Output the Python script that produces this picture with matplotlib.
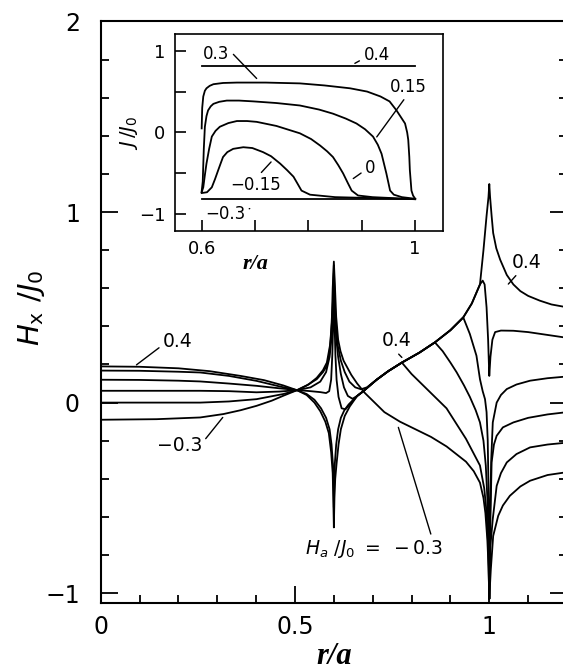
import matplotlib
matplotlib.use('Agg')
import matplotlib.pyplot as plt
from matplotlib.ticker import MultipleLocator, FixedLocator

plt.rcParams['font.family'] = 'DejaVu Sans'
plt.rcParams['mathtext.fontset'] = 'dejavusans'

# ---- main panel: H_x/J_0 against r/a, one curve per applied field H_a/J_0 ----
# rising branch inside the film that several curves share
env_x = [0.66, 0.676, 0.69, 0.71, 0.74, 0.775, 0.82, 0.86, 0.90, 0.933, 0.955, 0.976]
env_y = [0.035, 0.06, 0.085, 0.12, 0.165, 0.21, 0.262, 0.316, 0.38, 0.447, 0.52, 0.62]

# H_a/J_0 = 0.4
h04_x = ([0, 0.1, 0.2, 0.28, 0.36, 0.42, 0.47, 0.505, 0.53, 0.55, 0.565, 0.578, 0.587, 0.593, 0.597,
          0.5985, 0.6, 0.6015, 0.6035, 0.607, 0.612, 0.618, 0.628, 0.641] + env_x +
         [0.985, 0.993, 0.998, 1.0, 1.002, 1.006, 1.01, 1.018, 1.028, 1.045, 1.062, 1.08, 1.1, 1.13, 1.16, 1.2])
h04_y = ([0.19, 0.188, 0.18, 0.165, 0.14, 0.118, 0.09, 0.065, 0.04, 0.0, -0.045, -0.1, -0.16, -0.26, -0.37,
          -0.5, -0.655, -0.5, -0.4, -0.32, -0.22, -0.14, -0.07, -0.02] + env_y +
         [0.8, 0.98, 1.08, 1.147, 1.08, 0.98, 0.89, 0.81, 0.75, 0.67, 0.62, 0.585, 0.56, 0.535, 0.515, 0.5])

# H_a/J_0 = 0.3
h03_x = ([0, 0.1, 0.2, 0.256, 0.33, 0.401, 0.46, 0.505, 0.53, 0.55, 0.567, 0.58, 0.589, 0.594, 0.5975,
          0.599, 0.6, 0.601, 0.6025, 0.606, 0.611, 0.618, 0.627, 0.638, 0.65] + env_x +
         [0.983, 0.988, 0.993, 0.997, 1.0, 1.003, 1.008, 1.015, 1.03, 1.062, 1.1, 1.15, 1.2])
h03_y = ([0.168, 0.167, 0.162, 0.158, 0.14, 0.114, 0.085, 0.065, 0.045, 0.015, -0.03, -0.08, -0.14, -0.22, -0.32,
          -0.43, -0.55, -0.43, -0.32, -0.22, -0.14, -0.08, -0.04, -0.01, 0.015] + env_y +
         [0.64, 0.62, 0.5, 0.33, 0.14, 0.24, 0.33, 0.37, 0.378, 0.377, 0.37, 0.355, 0.34])

# H_a/J_0 = 0.15
h015_x = ([0, 0.1, 0.2, 0.256, 0.33, 0.401, 0.46, 0.505, 0.54, 0.565, 0.58, 0.588, 0.593, 0.596, 0.598,
           0.6, 0.602, 0.604, 0.607, 0.612, 0.62, 0.63, 0.645] + env_x[:10] +
          [0.95, 0.967, 0.976, 0.983, 0.989, 0.993, 0.996, 0.998, 1.0, 1.002, 1.005, 1.009, 1.019,
           1.03, 1.045, 1.07, 1.105, 1.15, 1.2])
h015_y = ([0.12, 0.119, 0.115, 0.111, 0.1, 0.088, 0.075, 0.066, 0.06, 0.055, 0.05, 0.06, 0.12, 0.25, 0.4,
           0.6, 0.4, 0.25, 0.12, 0.03, -0.03, -0.035, 0.0] + env_y[:10] +
          [0.36, 0.246, 0.123, 0.06, 0.018, -0.05, -0.2, -0.45, -1.03, -0.6, -0.3, -0.104, 0.0,
           0.04, 0.071, 0.095, 0.115, 0.128, 0.137])

# H_a/J_0 = 0
h0_x = ([0, 0.1, 0.2, 0.256, 0.33, 0.401, 0.46, 0.505, 0.54, 0.565, 0.58, 0.589, 0.594, 0.597, 0.6,
         0.603, 0.606, 0.611, 0.618, 0.626, 0.636, 0.648] + env_x[:8] +
        [0.88, 0.90, 0.916, 0.935, 0.95, 0.965, 0.976, 0.985, 0.991, 0.995, 0.998, 1.0, 1.002, 1.006,
         1.012, 1.019, 1.035, 1.062, 1.1, 1.15, 1.2])
h0_y = ([0.062, 0.062, 0.062, 0.062, 0.06, 0.054, 0.058, 0.065, 0.08, 0.11, 0.16, 0.24, 0.34, 0.46, 0.68,
         0.46, 0.34, 0.24, 0.15, 0.08, 0.035, 0.02] + env_y[:8] +
        [0.27, 0.21, 0.159, 0.09, 0.03, -0.04, -0.104, -0.2, -0.33, -0.5, -0.7, -1.03, -0.7, -0.314,
         -0.22, -0.174, -0.13, -0.104, -0.08, -0.062, -0.05])

# H_a/J_0 = -0.15
hm015_x = ([0, 0.1, 0.2, 0.256, 0.33, 0.401, 0.47, 0.505, 0.535, 0.556, 0.572, 0.582, 0.59, 0.595, 0.598,
            0.6, 0.602, 0.605, 0.61, 0.618, 0.628, 0.64, 0.655, 0.67, 0.685] + env_x[3:6] +
           [0.80, 0.84, 0.89, 0.94, 0.976, 0.987, 0.993, 0.997, 1.0, 1.003, 1.009, 1.019, 1.03, 1.045,
            1.07, 1.105, 1.15, 1.2])
hm015_y = ([0.0, 0.0, 0.0, 0.0, 0.006, 0.018, 0.045, 0.065, 0.095, 0.13, 0.17, 0.21, 0.3, 0.42, 0.55,
            0.72, 0.55, 0.42, 0.3, 0.22, 0.16, 0.11, 0.08, 0.07, 0.08] + env_y[3:6] +
           [0.15, 0.07, -0.03, -0.19, -0.33, -0.45, -0.576, -0.75, -1.03, -0.75, -0.61, -0.437, -0.37, -0.314,
            -0.27, -0.235, -0.22, -0.21])

# H_a/J_0 = -0.3
hm03_x = [0, 0.144, 0.256, 0.316, 0.36, 0.401, 0.44, 0.47, 0.505, 0.53, 0.556, 0.572, 0.582, 0.588, 0.592,
          0.595, 0.597, 0.6, 0.603, 0.606, 0.611, 0.617, 0.625, 0.633, 0.645, 0.66, 0.68, 0.70, 0.73, 0.77,
          0.81, 0.85, 0.89, 0.94, 0.96, 0.976, 0.985, 0.99, 0.995, 0.998, 1.0, 1.002, 1.004, 1.01, 1.023,
          1.035, 1.053, 1.08, 1.105, 1.15, 1.2]
hm03_y = [-0.09, -0.087, -0.078, -0.06, -0.04, -0.017, 0.01, 0.036, 0.065, 0.09, 0.123, 0.16, 0.193, 0.25, 0.33,
          0.45, 0.6, 0.74, 0.6, 0.45, 0.33, 0.27, 0.22, 0.19, 0.145, 0.10, 0.05, 0.01, -0.05, -0.10,
          -0.14, -0.18, -0.23, -0.31, -0.36, -0.42, -0.5, -0.58, -0.72, -0.86, -1.03, -0.95, -0.874, -0.70, -0.594,
          -0.54, -0.489, -0.44, -0.41, -0.38, -0.365]

# ---- inset: current density J/J_0 against r/a ----
j04_x = [0.6, 1.0]
j04_y = [0.81, 0.81]
j03_x = [0.6, 0.601, 0.603, 0.606, 0.609, 0.615, 0.622, 0.64, 0.666, 0.72, 0.784, 0.83, 0.878, 0.91, 0.935,
         0.952, 0.965, 0.975, 0.981, 0.985, 0.987, 0.989, 0.99, 0.993, 0.996, 1.0]
j03_y = [0.05, 0.3, 0.44, 0.51, 0.54, 0.57, 0.59, 0.605, 0.61, 0.61, 0.6, 0.575, 0.54, 0.5, 0.44,
         0.38, 0.27, 0.17, 0.11, 0.0, -0.09, -0.3, -0.46, -0.71, -0.77, -0.81]
j015_x = [0.6, 0.602, 0.604, 0.606, 0.609, 0.612, 0.617, 0.622, 0.633, 0.647, 0.67, 0.697, 0.74, 0.784, 0.82,
          0.846, 0.87, 0.89, 0.906, 0.921, 0.93, 0.937, 0.946, 0.953, 0.96, 0.975, 1.0]
j015_y = [-0.72, -0.6, -0.2, 0.07, 0.2, 0.27, 0.32, 0.35, 0.375, 0.39, 0.39, 0.38, 0.36, 0.33, 0.28,
          0.23, 0.17, 0.11, 0.04, -0.05, -0.15, -0.26, -0.5, -0.71, -0.76, -0.79, -0.81]
j0_x = [0.6, 0.603, 0.606, 0.609, 0.614, 0.619, 0.626, 0.634, 0.65, 0.666, 0.685, 0.703, 0.74, 0.784, 0.805,
        0.822, 0.835, 0.846, 0.856, 0.865, 0.874, 0.881, 0.893, 0.92, 1.0]
j0_y = [-0.73, -0.67, -0.52, -0.38, -0.2, -0.05, 0.02, 0.07, 0.115, 0.14, 0.14, 0.13, 0.08, -0.01, -0.08,
        -0.16, -0.23, -0.3, -0.4, -0.5, -0.62, -0.71, -0.77, -0.79, -0.815]
jm015_x = [0.6, 0.61, 0.619, 0.625, 0.631, 0.636, 0.64, 0.648, 0.659, 0.678, 0.695, 0.715, 0.73, 0.747, 0.76,
           0.772, 0.78, 0.787, 0.803, 0.85, 1.0]
jm015_y = [-0.74, -0.73, -0.67, -0.57, -0.46, -0.37, -0.3, -0.24, -0.2, -0.18, -0.19, -0.24, -0.29, -0.38, -0.46,
           -0.54, -0.63, -0.71, -0.76, -0.79, -0.815]
jm03_x = [0.6, 1.0]
jm03_y = [-0.81, -0.81]

fig = plt.figure(figsize=(5.63, 6.71), dpi=100)
ax = fig.add_axes([0.1789, 0.1018, 0.8282, 0.8662])

for xs, ys in [(h04_x, h04_y), (h03_x, h03_y), (h015_x, h015_y), (h0_x, h0_y),
               (hm015_x, hm015_y), (hm03_x, hm03_y)]:
    ax.plot(xs, ys, color='black', lw=1.3)

ax.set_xlim(0, 1.2)
ax.set_ylim(-1.05, 2.0)
ax.xaxis.set_major_locator(FixedLocator([0, 0.5, 1]))
ax.xaxis.set_minor_locator(MultipleLocator(0.1))
ax.yaxis.set_major_locator(FixedLocator([-1, 0, 1, 2]))
ax.yaxis.set_minor_locator(MultipleLocator(0.2))
ax.set_xticklabels(['0', '0.5', '1'])
ax.set_yticklabels(['\u22121', '0', '1', '2'])
ax.tick_params(which='both', direction='in', right=True, top=False, width=1.3, labelsize=17)
ax.tick_params(which='major', length=12)
ax.tick_params(which='minor', length=6)
ax.tick_params(axis='y', pad=15)
ax.tick_params(axis='x', pad=9)
for s in ax.spines.values():
    s.set_linewidth(1.5)

ax.set_xlabel('r/a', fontfamily='Liberation Serif', fontstyle='italic', fontweight='bold', fontsize=22)
ax.xaxis.set_label_coords(0.5, -0.068)
ax.set_ylabel(r'$H_{\mathrm{x}}\ /J_0$', fontsize=21)
ax.yaxis.set_label_coords(-0.116, 0.507)

line = dict(arrowstyle='-', lw=1.0, color='black', shrinkA=1, shrinkB=0)
ax.annotate('0.4', xy=(0.092, 0.198), xytext=(0.16, 0.323), ha='left', va='center', fontsize=13.5,
            arrowprops=dict(line, relpos=(0, 0.3)))
ax.annotate('\u22120.3', xy=(0.314, -0.078), xytext=(0.144, -0.223), ha='left', va='center', fontsize=13.5,
            arrowprops=dict(line, relpos=(1, 0.6)))
ax.annotate('0.4', xy=(0.775, 0.237), xytext=(0.723, 0.324), ha='left', va='center', fontsize=13.5,
            arrowprops=dict(line, relpos=(0.45, 0)))
ax.annotate('0.4', xy=(1.049, 0.622), xytext=(1.058, 0.736), ha='left', va='center', fontsize=13.5,
            arrowprops=dict(line, relpos=(0.25, 0)))
ax.annotate(r'$H_a\ /J_0\ =\ -0.3$', xy=(0.766, -0.13), xytext=(0.526, -0.769), ha='left', va='center',
            fontsize=13.5, arrowprops=dict(line, relpos=(0.92, 1)))

# inset
ins = fig.add_axes([0.3108, 0.6562, 0.4769, 0.2927])
for xs, ys in [(j04_x, j04_y), (j03_x, j03_y), (j015_x, j015_y), (j0_x, j0_y),
               (jm015_x, jm015_y), (jm03_x, jm03_y)]:
    ins.plot(xs, ys, color='black', lw=1.3)
ins.set_xlim(0.55, 1.053)
ins.set_ylim(-1.2, 1.2)
ins.xaxis.set_major_locator(FixedLocator([0.6, 1.0]))
ins.xaxis.set_minor_locator(FixedLocator([0.7, 0.8, 0.9]))
ins.set_xticklabels(['0.6', '1'])
ins.yaxis.set_major_locator(FixedLocator([-1, 0, 1]))
ins.yaxis.set_minor_locator(FixedLocator([-0.5, 0.5]))
ins.set_yticklabels(['\u22121', '0', '1'])
ins.tick_params(which='both', direction='in', length=8, width=1.2, labelsize=13, pad=7)
for s in ins.spines.values():
    s.set_linewidth(1.2)
ins.set_xlabel('r/a', fontfamily='Liberation Serif', fontstyle='italic', fontweight='bold', fontsize=16)
ins.xaxis.set_label_coords(0.30, -0.12)
ins.set_ylabel(r'$J\,/J_0$', fontsize=14)
ins.yaxis.set_label_coords(-0.13, 0.5)

ins.annotate('0.3', xy=(0.703, 0.66), xytext=(0.603, 0.958), ha='left', va='center', fontsize=12,
             arrowprops=dict(line, relpos=(1, 0.7)))
ins.annotate('0.4', xy=(0.887, 0.845), xytext=(0.903, 0.946), ha='left', va='center', fontsize=12,
             arrowprops=dict(line, relpos=(0, 0.3)))
ins.annotate('0.15', xy=(0.928, -0.054), xytext=(0.953, 0.558), ha='left', va='center', fontsize=12,
             arrowprops=dict(line, relpos=(0.45, 0)))
ins.annotate('0', xy=(0.884, -0.563), xytext=(0.906, -0.44), ha='left', va='center', fontsize=12,
             arrowprops=dict(line, relpos=(0, 0.4)))
ins.annotate('\u22120.15', xy=(0.73, -0.36), xytext=(0.653, -0.645), ha='left', va='center', fontsize=12,
             arrowprops=dict(line, relpos=(0.55, 1)))
ins.annotate('\u22120.3', xy=(0.69, -0.93), xytext=(0.606, -0.99), ha='left', va='center', fontsize=12,
             arrowprops=dict(line, relpos=(1, 0.7)))

fig.savefig('out.png', dpi=100)
